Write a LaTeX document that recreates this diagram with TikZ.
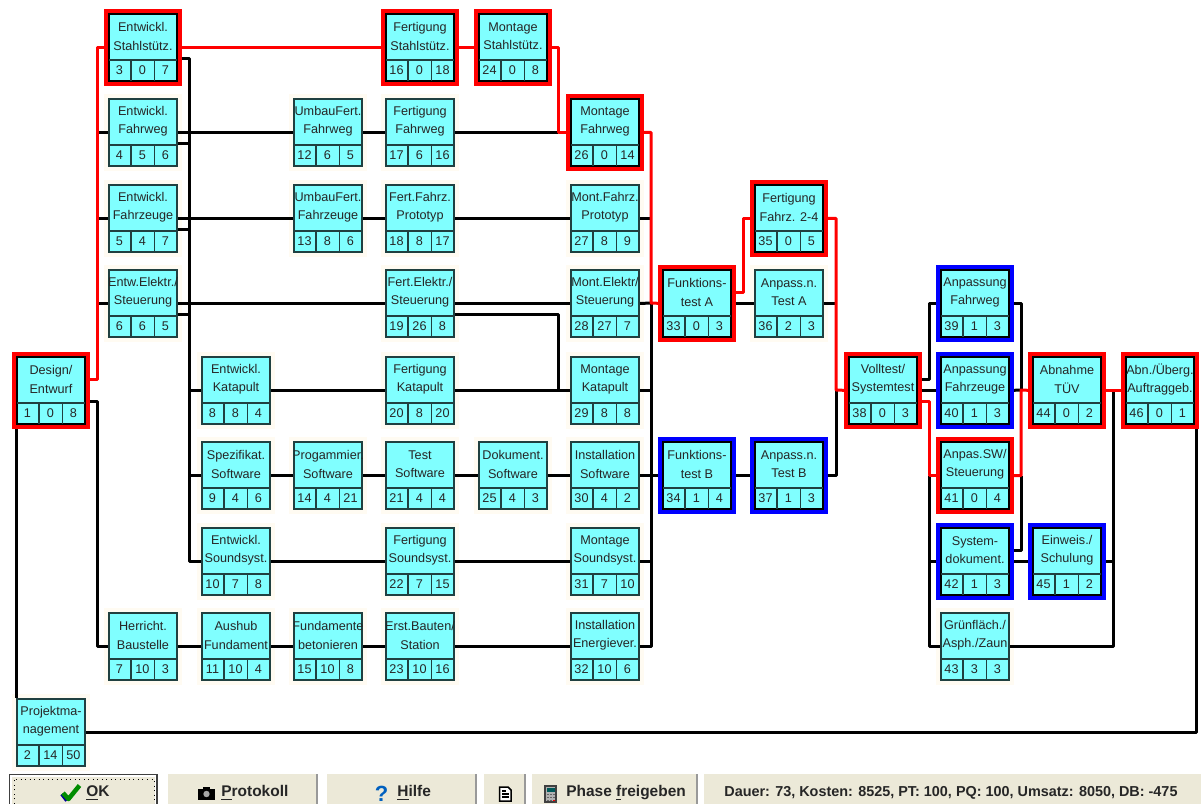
\documentclass[tikz,border=0pt]{standalone}
\usepackage{fontspec}
\setmainfont{Liberation Sans}
\usetikzlibrary{backgrounds}
\definecolor{boxcyan}{HTML}{80FFFF}
\definecolor{boxline}{HTML}{204040}
\definecolor{halocream}{HTML}{FFFBF2}
\definecolor{panelgray}{HTML}{ECE9D8}
\pgfdeclarelayer{halo}
\pgfdeclarelayer{links}
\pgfsetlayers{halo,links,main}
% one task: name, left, top, title, three numbers
\newcommand{\tasknode}[8][]{%
  \begin{scope}[shift={(#3,#4)}]
    \begin{pgfonlayer}{halo}
      \fill[halocream] (-5,-5) rectangle (73,72);
    \end{pgfonlayer}
    \node[taskframe,#1] (#2f) at (34,33.5) {};
    \node[taskbox,#1box] (#2) at (34,33.5) {};
    \draw[celline] (0,46) -- (68,46) (22,46) -- (22,67) (45.5,46) -- (45.5,67);
    \begin{scope}
      \clip (0,0) rectangle (68,46);
      \node[tasktext] (#2t) at (34,22.5) {#5};
    \end{scope}
    \node[tasknum] (#2a) at (10.5,56.5) {#6};
    \node[tasknum] (#2b) at (33.5,56.5) {#7};
    \node[tasknum] (#2c) at (56.5,56.5) {#8};
  \end{scope}}
\begin{document}
\begin{tikzpicture}[
  x=0.02cm,y=-0.02cm,
  taskframe/.style={minimum width=1.56cm,minimum height=1.54cm,inner sep=0pt,draw=none},
  critical/.style={fill=red},
  spare/.style={fill=blue},
  box/.style={},
  criticalbox/.style={draw=black},
  sparebox/.style={draw=black},
  taskbox/.style={draw=boxline,fill=boxcyan,line width=0.03cm,minimum width=1.36cm,minimum height=1.34cm,inner sep=0pt},
  celline/.style={draw=boxline,line width=0.03cm},
  tasktext/.style={font=\fontsize{7.2pt}{10.3pt}\selectfont,align=center,inner sep=0pt,text=black!85},
  tasknum/.style={font=\fontsize{7.2pt}{8pt}\selectfont,inner sep=0pt,text=black!85},
  link/.style={line width=0.06cm,black,line join=round},
  critlink/.style={line width=0.06cm,red,line join=round},
  panel/.style={fill=panelgray,draw=none},
  paneltext/.style={font=\fontsize{8.8pt}{9pt}\selectfont\bfseries,inner sep=0pt,text=black!85}
]
  \useasboundingbox (0,0) rectangle (1201,804);

  % row 0
  \tasknode[critical]{n3}{109}{14}{Entwickl.\\Stahlstütz.}{3}{0}{7}
  \tasknode[critical]{n16}{386}{14}{Fertigung\\Stahlstütz.}{16}{0}{18}
  \tasknode[critical]{n24}{479}{14}{Montage\\Stahlstütz.}{24}{0}{8}
  % row 1
  \tasknode{n4}{109}{99}{Entwickl.\\Fahrweg}{4}{5}{6}
  \tasknode{n12}{294}{99}{UmbauFert.\\Fahrweg}{12}{6}{5}
  \tasknode{n17}{386}{99}{Fertigung\\Fahrweg}{17}{6}{16}
  \tasknode[critical]{n26}{571}{99}{Montage\\Fahrweg}{26}{0}{14}
  % row 2
  \tasknode{n5}{109}{185}{Entwickl.\\Fahrzeuge}{5}{4}{7}
  \tasknode{n13}{294}{185}{UmbauFert.\\Fahrzeuge}{13}{8}{6}
  \tasknode{n18}{386}{185}{Fert.Fahrz.\\Prototyp}{18}{8}{17}
  \tasknode{n27}{571}{185}{Mont.Fahrz.\\Prototyp}{27}{8}{9}
  \tasknode[critical]{n35}{755}{185}{Fertigung\\Fahrz. 2-4}{35}{0}{5}
  % row 3
  \tasknode{n6}{109}{270}{Entw.Elektr./\\Steuerung}{6}{6}{5}
  \tasknode{n19}{386}{270}{Fert.Elektr./\\Steuerung}{19}{26}{8}
  \tasknode{n28}{571}{270}{Mont.Elektr/\\Steuerung}{28}{27}{7}
  \tasknode[critical]{n33}{663}{270}{Funktions-\\test A}{33}{0}{3}
  \tasknode{n36}{755}{270}{Anpass.n.\\Test A}{36}{2}{3}
  \tasknode[spare]{n39}{941}{270}{Anpassung\\Fahrweg}{39}{1}{3}
  % row 4
  \tasknode[critical]{n1}{17}{357}{Design/\\Entwurf}{1}{0}{8}
  \tasknode{n8}{202}{357}{Entwickl.\\Katapult}{8}{8}{4}
  \tasknode{n20}{386}{357}{Fertigung\\Katapult}{20}{8}{20}
  \tasknode{n29}{571}{357}{Montage\\Katapult}{29}{8}{8}
  \tasknode[critical]{n38}{849}{357}{Volltest/\\Systemtest}{38}{0}{3}
  \tasknode[spare]{n40}{941}{357}{Anpassung\\Fahrzeuge}{40}{1}{3}
  \tasknode[critical]{n44}{1033}{357}{Abnahme\\TÜV}{44}{0}{2}
  \tasknode[critical]{n46}{1126}{357}{Abn./Überg.\\Auftraggeb.}{46}{0}{1}
  % row 5
  \tasknode{n9}{202}{442}{Spezifikat.\\Software}{9}{4}{6}
  \tasknode{n14}{294}{442}{Progammier.\\Software}{14}{4}{21}
  \tasknode{n21}{386}{442}{Test\\Software}{21}{4}{4}
  \tasknode{n25}{479}{442}{Dokument.\\Software}{25}{4}{3}
  \tasknode{n30}{571}{442}{Installation\\Software}{30}{4}{2}
  \tasknode[spare]{n34}{663}{442}{Funktions-\\test B}{34}{1}{4}
  \tasknode[spare]{n37}{755}{442}{Anpass.n.\\Test B}{37}{1}{3}
  \tasknode[critical]{n41}{941}{442}{Anpas.SW/\\Steuerung}{41}{0}{4}
  % row 6
  \tasknode{n10}{202}{528}{Entwickl.\\Soundsyst.}{10}{7}{8}
  \tasknode{n22}{386}{528}{Fertigung\\Soundsyst.}{22}{7}{15}
  \tasknode{n31}{571}{528}{Montage\\Soundsyst.}{31}{7}{10}
  \tasknode[spare]{n42}{941}{528}{System-\\dokument.}{42}{1}{3}
  \tasknode[spare]{n45}{1033}{528}{Einweis./\\Schulung}{45}{1}{2}
  % row 7
  \tasknode{n7}{109}{613}{Herricht.\\Baustelle}{7}{10}{3}
  \tasknode{n11}{202}{613}{Aushub\\Fundament}{11}{10}{4}
  \tasknode{n15}{294}{613}{Fundamente\\betonieren}{15}{10}{8}
  \tasknode{n23}{386}{613}{Erst.Bauten/\\Station}{23}{10}{16}
  \tasknode{n32}{571}{613}{Installation\\Energiever.}{32}{10}{6}
  \tasknode{n43}{941}{613}{Grünfläch./\\Asph./Zaun}{43}{3}{3}
  % row 8
  \tasknode{n2}{17}{699}{Projektma-\\nagement}{2}{14}{50}

  % bus points
  \coordinate (busA) at (97,380);
  \coordinate (busB) at (189,58);
  \coordinate (busC) at (558,314);
  \coordinate (busD) at (558,47);
  \coordinate (busE) at (651,303);
  \coordinate (busF) at (743,292);
  \coordinate (busG) at (836,390);
  \coordinate (busH) at (929,476);
  \coordinate (busJ) at (1021,390);
  \coordinate (busK) at (1113,390);
  \coordinate (busL) at (1196,428);

  \begin{pgfonlayer}{links}
    % black links
    \draw[link] (n1.south west) -- (n2.north west);
    \draw[link] ([yshift=-0.22cm]n1.east) -| (busA |- n7.west) -- (n7.west);
    \foreach \t in {n4,n5,n6} \draw[link] (busA |- \t.west) -- (\t.west);
    \draw[link] ([yshift=-0.22cm]n3.east) -| (busB |- n10.west) -- (n10.west);
    \foreach \t in {n4,n5,n6} \draw[link] ([yshift=-0.22cm]\t.east) -- ++(12,0);
    \foreach \t in {n8,n9} \draw[link] (busB |- \t.west) -- (\t.west);
    \draw[link] (n4.east) -- (n12.west);
    \draw[link] (n5.east) -- (n13.west);
    \draw[link] (n6.east) -- (n19.west);
    \draw[link] (n8.east) -- (n20.west);
    \draw[link] (n9.east) -- (n14.west);
    \draw[link] (n14.east) -- (n21.west);
    \draw[link] (n21.east) -- (n25.west);
    \draw[link] (n25.east) -- (n30.west);
    \draw[link] (n10.east) -- (n22.west);
    \draw[link] (n7.east) -- (n11.west);
    \draw[link] (n11.east) -- (n15.west);
    \draw[link] (n15.east) -- (n23.west);
    \draw[link] (n23.east) -- (n32.west);
    \draw[link] (n12.east) -- (n17.west);
    \draw[link] (n13.east) -- (n18.west);
    \draw[link] (n17.east) -- (busD |- n17.east);
    \draw[link] (n18.east) -- (n27.west);
    \draw[link] (n22.east) -- (n31.west);
    \draw[link] (n19.east) -- (n28.west);
    \draw[link] (n20.east) -- (n29.west);
    \draw[link] ([yshift=-0.22cm]n19.east) -| (busC |- n20.west);
    \draw[link] (n28.east) -- (busE);
    \draw[link] (n27.east) -- (busE |- n27.east);
    \draw[link] (n32.east) -| (busE);
    \draw[link] (n29.east) -- (busE |- n29.east);
    \draw[link] (n30.east) -- (n34.west);
    \draw[link] (n31.east) -- (busE |- n31.east);
    \draw[link] (n33.east) -- (n36.west);
    \draw[link] (n34.east) -- (n37.west);
    \draw[link] (n36.east) -- (busG |- n36.east);
    \draw[link] (n37.east) -| (busG);
    \draw[link] ([yshift=0.22cm]n38.east) -| (busH |- n39.west) -- (n39.west);
    \draw[link] (n38.east) -- (n40.west);
    \draw[link] (busH) |- (n43.west);
    \draw[link] (busH |- n42.west) -- (n42.west);
    \draw[link] (n39.east) -| (busJ);
    \draw[link] (n40.east) -- (busJ);
    \draw[link] ([yshift=0.22cm]n42.east) -| (busJ |- n41.east);
    \draw[link] (n42.east) -- (n45.west);
    \draw[link] (n43.east) -| (busK);
    \draw[link] (n45.east) -- (busK |- n45.east);
    \draw[link] (n2.east) -| (busL);
    % critical path
    \draw[critlink] ([yshift=0.22cm]n1.east) -| (busA |- n3.west) -- (n3.west);
    \draw[critlink] (n3.east) -- (n16.west);
    \draw[critlink] (n16.east) -- (n24.west);
    \draw[critlink] (n24.east) -| (busD |- n26.west) -- (n26.west);
    \draw[critlink] (n26.east) -| (busE) -- (n33.west);
    \draw[critlink] ([yshift=0.22cm]n33.east) -| (busF |- n35.west) -- (n35.west);
    \draw[critlink] (n35.east) -| (busG) -- (n38.west);
    \draw[critlink] ([yshift=-0.22cm]n38.east) -| (busH |- n41.west) -- (n41.west);
    \draw[critlink] (n41.east) -| (busJ) -- (n44.west);
    \draw[critlink] (n44.east) -- (n46.west);
  \end{pgfonlayer}

  % button row
  \fill[black!75] (9,774) rectangle (158,804);
  \fill[white] (10,775) rectangle (156,804);
  \fill[panel] (11.5,776.5) rectangle (155,804);
  \draw[dotted,line width=0.02cm] (14,804) -- (14,779) -- (154,779) -- (154,804);
  \fill[black!40] (316,774) rectangle (318,804);
  \fill[panel] (168,774) rectangle (316,804);
  \fill[black!40] (475,774) rectangle (477,804);
  \fill[panel] (327,774) rectangle (475,804);
  \fill[black!40] (524,774) rectangle (526,804);
  \fill[panel] (484,774) rectangle (524,804);
  \fill[black!40] (696,774) rectangle (698,804);
  \fill[panel] (532,774) rectangle (696,804);
  \fill[panel] (704,774) rectangle (1201,804);

  \draw[blue!60!black,line width=0.08cm,line join=round] (62,794) -- (67,800.5);
  \draw[green!55!black,line width=0.09cm,line join=round] (63,793) -- (68.5,799) -- (79.5,785.5);
  \node[paneltext,anchor=west] (oktext) at (86,793) {\underline{O}K};
  \fill[black] (198,789) rectangle (215,799.5);
  \fill[black] (203,786.5) rectangle (210,789);
  \fill[black!35] (206.5,794) circle (3.2);
  \node[paneltext,anchor=west] (prottext) at (221,793) {\underline{P}rotokoll};
  \node[anchor=center,inner sep=0pt,text=blue!50!cyan!75!black,font=\fontsize{12.5pt}{13pt}\selectfont\bfseries] (helpmark) at (381.5,794) {?};
  \node[paneltext,anchor=west] (helptext) at (397,793) {\underline{H}ilfe};
  \draw[black,fill=white,line width=0.03cm] (499.5,787) -- (508,787) -- (511,790) -- (511,801) -- (499.5,801) -- cycle;
  \draw[black,line width=0.03cm] (502,791) -- (506,791) (502,794) -- (509,794) (502,797) -- (509,797);
  \fill[black!75] (544,785) rectangle (557,803);
  \fill[black!30] (546,787) rectangle (555,801);
  \fill[teal!70!black] (546.5,787.5) rectangle (554.5,791.5);
  \foreach \bx in {547,550,553} \foreach \by in {793.5,796.5,799.5} \fill[black!60] (\bx,\by) rectangle ++(1.6,1.4);
  \fill[red] (553,799.5) rectangle ++(2,1.4);
  \node[paneltext,anchor=west] (phasetext) at (566,793) {Phase \underline{f}reigeben};
  \node[paneltext,anchor=west,font=\fontsize{8.2pt}{9pt}\selectfont\bfseries] (statustext) at (724,793) {Dauer: 73,  Kosten: 8525,  PT: 100,  PQ: 100,  Umsatz: 8050,  DB: -475};
\end{tikzpicture}
\end{document}
